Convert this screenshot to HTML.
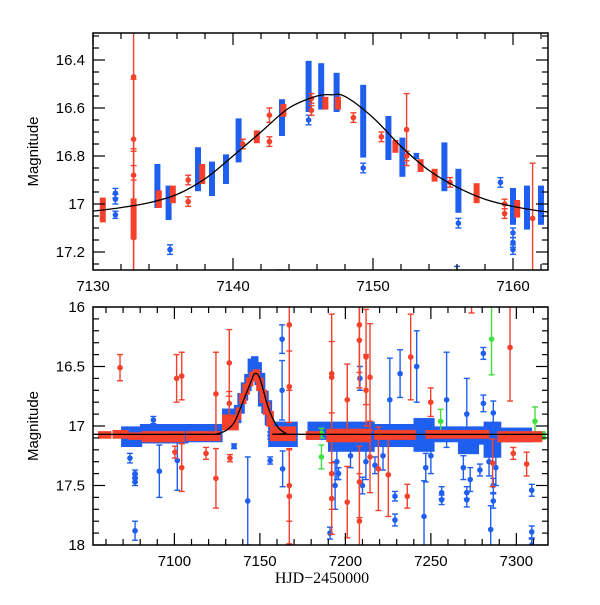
<!DOCTYPE html>
<html><head><meta charset="utf-8"><style>
body{margin:0;background:#fff}
svg text{font-family:"Liberation Sans",sans-serif;font-size:15px;fill:#000}
</style></head><body>
<svg id="chart" width="600" height="600" viewBox="0 0 600 600" xmlns="http://www.w3.org/2000/svg">
<defs>
<clipPath id="clipTop"><rect x="93" y="33" width="455" height="237"/></clipPath>
<clipPath id="clipBot"><rect x="93" y="307" width="455" height="238"/></clipPath>
</defs>
<g id="top"></g>
<g id="bot"></g>
</svg>
<script>
// ---------- TOP PANEL DATA ----------
const topXTicks = [7130, 7140, 7150, 7160];
const topYTicks = [16.4, 16.6, 16.8, 17, 17.2];
const topYLabels = ["16.4", "16.6", "16.8", "17", "17.2"];
const topBlueClusters = [[7134.6,16.85,17.0],[7135.4,16.94,17.05],[7137.5,16.78,16.93],[7138.5,16.84,16.95],[7139.5,16.81,16.9],[7140.4,16.66,16.81],[7143.5,16.58,16.7],[7145.4,16.42,16.6],[7146.3,16.43,16.59],[7147.4,16.47,16.6],[7149.3,16.52,16.79],[7151.1,16.65,16.8],[7152.1,16.74,16.87],[7155.1,16.76,16.93],[7156.1,16.87,17.02],[7160.0,16.95,17.07],[7161.0,16.94,17.09],[7162.0,16.94,17.07]];
const topRedClusters = [[7130.7,16.99,17.06],[7132.9,17.0,17.13],[7134.7,16.96,17.0],[7135.7,16.94,16.98],[7137.8,16.85,16.9],[7141.7,16.71,16.73],[7143.6,16.6,16.62],[7146.6,16.57,16.59],[7147.5,16.57,16.59],[7151.6,16.75,16.77],[7153.4,16.83,16.85],[7154.4,16.87,16.89],[7157.4,16.93,16.98],[7160.3,17.0,17.04]];
const topBluePts = [[7131.6,16.955,0.02],[7131.6,16.98,0.02],[7131.6,17.045,0.015],[7135.5,17.19,0.02],[7145.4,16.65,0.02],[7149.3,16.85,0.02],[7153.1,16.8,0.01],[7156.1,17.08,0.02],[7159.1,16.91,0.02],[7160.0,17.12,0.02],[7160.0,17.16,0.02],[7160.0,17.19,0.02],[7143.4,17.29,0.015],[7156.0,17.29,0.03]];
const topRedPts = [[7132.9,16.47,0.3],[7132.9,16.73,0.25],[7132.9,16.88,0.1],[7132.9,17.1,0.2],[7132.9,17.14,0.3],[7136.8,16.9,0.02],[7136.8,16.99,0.02],[7140.7,16.75,0.02],[7142.6,16.63,0.03],[7142.6,16.74,0.02],[7145.6,16.56,0.02],[7145.6,16.61,0.02],[7148.6,16.64,0.02],[7150.6,16.72,0.02],[7152.4,16.69,0.15],[7152.4,16.8,0.02],[7155.5,16.91,0.02],[7159.4,17.0,0.02],[7159.4,17.04,0.02],[7161.4,17.06,0.23]];
const topCurveX = [7130,7132,7134,7136,7138,7140,7142,7144,7146,7147,7148,7150,7152,7154,7156,7158,7160,7162,7163];
const topCurveY = [17.03,17.015,16.995,16.96,16.895,16.8,16.7,16.6,16.55,16.545,16.552,16.64,16.76,16.86,16.93,16.98,17.01,17.03,17.035];

// ---------- BOTTOM PANEL DATA ----------
const botXTicks = [7100, 7150, 7200, 7250, 7300];
const botYTicks = [16, 16.5, 17, 17.5, 18];
const botYLabels = ["16", "16.5", "17", "17.5", "18"];
const botBlueClusters = [[7070,7080,17.02,17.16],[7081,7107,17.0,17.13],[7109,7127,17.0,17.12],[7129,7136,16.87,17.0],[7136,7138,16.84,16.96],[7138,7140,16.74,16.88],[7140,7142,16.65,16.77],[7142,7144,16.58,16.69],[7144,7146,16.45,16.6],[7146,7148,16.43,16.6],[7148,7150,16.48,16.64],[7150,7152,16.57,16.82],[7152,7154,16.72,16.88],[7154,7156,16.8,16.98],[7156,7171,16.98,17.16],[7179,7189,16.98,17.1],[7191,7216,16.98,17.2],[7216,7240,17.0,17.16],[7241,7251,16.95,17.2],[7252,7266,17.02,17.12],[7267,7277,17.02,17.22],[7278,7282,17.02,17.14],[7282,7290,16.98,17.25],[7291,7308,17.03,17.12]];
const botRedClusters = [[7056.5,7062,17.06,17.09],[7065,7072,17.05,17.09],[7074,7080,17.07,17.1],[7082,7105,17.06,17.12],[7108,7126,17.06,17.11],[7129,7136.5,16.92,17.02],[7137,7138,16.86,16.93],[7139,7141,16.74,16.8],[7141,7143,16.66,16.72],[7143,7145,16.61,16.65],[7145,7147,16.56,16.61],[7147,7149,16.54,16.59],[7149,7151,16.61,16.69],[7151,7153,16.71,16.79],[7153,7155,16.81,16.89],[7155,7157,16.89,16.99],[7157,7170,17.02,17.11],[7178,7184,17.06,17.1],[7190,7214,17.04,17.12],[7218,7240,17.05,17.1],[7248,7283,17.05,17.09],[7290,7314,17.06,17.12]];
const botGreenClusters = [[7312,7316,17.06,17.1]];
const botBluePts = [[7077,17.88,0.08],[7077,17.4,0.03],[7077,17.44,0.03],[7077,17.47,0.03],[7074,17.27,0.04],[7087.7,16.95,0.03],[7091.2,17.38,0.22],[7101.7,17.29,0.25],[7134.9,17.17,0.02],[7142.9,17.63,0.37],[7163,16.27,0.12],[7163,16.7,0.25],[7163.3,17.36,0.15],[7156,17.29,0.03],[7156,17.08,0.03],[7280.7,16.39,0.05],[7280.7,16.81,0.07],[7286.5,16.89,0.1],[7256.3,17.56,0.05],[7256.3,17.62,0.04],[7229,17.59,0.04],[7229,17.79,0.05],[7246,17.76,0.3],[7271,17.62,0.06],[7271,17.56,0.05],[7285,17.87,0.2],[7286.5,17.5,0.06],[7286.5,17.63,0.06],[7309,17.54,0.05],[7309,17.89,0.05],[7309,18.0,0.05],[7191,17.9,0.05],[7208.5,16.6,0.1],[7232,16.56,0.2],[7241.7,16.5,0.3],[7226,16.78,0.35],[7259.2,16.78,0.4],[7271,16.9,0.3],[7210,17.5,0.07],[7217.3,17.33,0.07],[7278.7,17.37,0.05],[7196,17.4,0.05],[7194,17.5,0.2],[7195,17.3,0.15],[7203,17.25,0.1],[7212,17.3,0.15],[7222,17.25,0.12],[7247,17.35,0.12],[7250,17.25,0.15],[7269,17.35,0.1],[7273,17.45,0.1],[7284,17.3,0.12],[7288,17.35,0.15]];
const botRedPts = [[7068.2,16.51,0.11],[7101.3,16.6,0.2],[7104.3,16.58,0.2],[7104.3,17.35,0.2],[7124.3,16.73,0.35],[7124.3,17.44,0.25],[7132.1,16.47,0.28],[7132.1,16.81,0.1],[7132.5,17.27,0.03],[7118.5,17.23,0.05],[7100.3,17.22,0.05],[7167.2,16.15,0.55],[7167.2,16.67,0.3],[7167.2,17.5,0.3],[7167.2,17.59,0.4],[7192,16.56,0.5],[7192,16.59,0.3],[7192,17.4,0.3],[7192,17.61,0.3],[7201.1,16.78,0.3],[7201.1,17.64,0.3],[7208.2,16.15,0.4],[7208.2,16.28,0.4],[7208.2,17.8,0.4],[7208.2,17.47,0.3],[7212.1,16.42,0.4],[7212.1,16.7,0.3],[7214.4,16.59,0.45],[7214.4,17.26,0.3],[7219.3,17.36,0.35],[7225.1,17.41,0.35],[7238.2,16.42,0.36],[7236.2,17.59,0.1],[7249.9,16.8,0.12],[7296.3,16.34,0.45],[7273.8,15.95,0.1],[7286.1,17.31,0.2],[7298.2,17.23,0.05],[7306,17.32,0.1]];
const botGreenPts = [[7285.5,16.27,0.3],[7310.9,16.96,0.12],[7255.7,16.96,0.1],[7186,17.06,0.04],[7186,17.26,0.1]];
const botCurveX = [7050,7120,7125,7130,7135,7140,7145,7147,7150,7155,7160,7165,7170,7320];
const botCurveY = [17.07,17.07,17.065,17.04,16.97,16.8,16.62,16.56,16.6,16.85,17.0,17.06,17.07,17.07];

const NS = "http://www.w3.org/2000/svg";
const RED = "#f5402c", BLUE = "#1f5ff0", GREEN = "#40e040";
function mk(tag, attrs, parent){const e=document.createElementNS(NS,tag);for(const k in attrs)e.setAttribute(k,attrs[k]);parent.appendChild(e);return e;}

function panel(g, P){
  const x = d => P.left + (d - P.x0) / (P.x1 - P.x0) * (P.right - P.left);
  const y = m => P.top + (m - P.y0) / (P.y1 - P.y0) * (P.bottom - P.top);
  const data = mk('g', {'clip-path': 'url(#' + P.clip + ')'}, g);
  
  
  function cluster(c, color, name){
    const x0 = x(c[0]) - P.hw, x1 = x(c.length > 3 ? c[1] : c[0]) + P.hw;
    const mn = c.length > 3 ? c[2] : c[1], mx = c.length > 3 ? c[3] : c[2];
    const r = mk('rect', {x: x0, y: y(mn) - P.pad, width: x1 - x0, height: y(mx) - y(mn) + 2 * P.pad, fill: color}, data);
    
    
  }
  function pt(p, color, name){
    const cx = x(p[0]), cy = y(p[1]), e1 = y(p[1] - p[2]), e2 = y(p[1] + p[2]);
    const grp = mk('g', {stroke: color, 'stroke-width': 1.4, fill: color}, data);
    
    
    mk('line', {x1: cx, x2: cx, y1: e1, y2: e2}, grp);
    mk('line', {x1: cx - 3, x2: cx + 3, y1: e1, y2: e1}, grp);
    mk('line', {x1: cx - 3, x2: cx + 3, y1: e2, y2: e2}, grp);
    mk('circle', {cx: cx, cy: cy, r: 2.8, stroke: 'none'}, grp);
  }
  P.blueC.forEach(c => cluster(c, BLUE, 'blue-cluster'));
  P.bluePts.forEach(p => pt(p, BLUE, 'blue-point'));
  (P.greenC || []).forEach(c => cluster(c, GREEN, 'green-cluster'));
  (P.greenPts || []).forEach(p => pt(p, GREEN, 'green-point'));
  P.redC.forEach(c => cluster(c, RED, 'red-cluster'));
  P.redPts.forEach(p => pt(p, RED, 'red-point'));
  const pts = P.cx.map((d, i) => [x(d), y(P.cy[i])]);
  let dstr = 'M' + pts[0][0] + ',' + pts[0][1];
  for (let i = 0; i < pts.length - 1; i++){
    const p0 = pts[Math.max(0, i - 1)], p1 = pts[i], p2 = pts[i + 1], p3 = pts[Math.min(pts.length - 1, i + 2)];
    const c1 = [p1[0] + (p2[0] - p0[0]) / 6, p1[1] + (p2[1] - p0[1]) / 6];
    const c2 = [p2[0] - (p3[0] - p1[0]) / 6, p2[1] - (p3[1] - p1[1]) / 6];
    dstr += ' C' + c1 + ' ' + c2 + ' ' + p2;
  }
  const cv = mk('path', {d: dstr, fill: 'none', stroke: '#000', 'stroke-width': 1.3}, data);
  
  
  const fr = mk('rect', {x: P.left, y: P.top, width: P.right - P.left, height: P.bottom - P.top, fill: 'none', stroke: '#000', 'stroke-width': 1.5}, g);
  
  
  const ticks = mk('g', {stroke: '#000', 'stroke-width': 1.2}, g);
  
  
  for (let d = Math.ceil(P.x0 / P.xMinor) * P.xMinor; d <= P.x1; d += P.xMinor){
    const major = Math.abs(d / P.xMajor - Math.round(d / P.xMajor)) < 1e-6;
    const L = major ? 12 : 6, xx = x(d);
    mk('line', {x1: xx, x2: xx, y1: P.bottom, y2: P.bottom - L}, ticks);
    mk('line', {x1: xx, x2: xx, y1: P.top, y2: P.top + L}, ticks);
  }
  for (let k = Math.ceil(P.y0 / P.yMinor - 1e-6); k * P.yMinor <= P.y1 + 1e-6; k++){
    const m = k * P.yMinor;
    const major = Math.abs(m / P.yMajor - Math.round(m / P.yMajor)) < 1e-6;
    const L = major ? 12 : 6, yy = y(m);
    mk('line', {x1: P.left, x2: P.left + L, y1: yy, y2: yy}, ticks);
    mk('line', {x1: P.right, x2: P.right - L, y1: yy, y2: yy}, ticks);
  }
  P.xTicks.forEach(d => {
    const t = mk('text', {x: x(d), y: P.bottom + 21, 'text-anchor': 'middle'}, g);
    t.textContent = String(d);
    
    
  });
  P.yTicks.forEach((m, i) => {
    const t = mk('text', {x: P.left - 8, y: y(m) + 5, 'text-anchor': 'end'}, g);
    t.textContent = P.yLabels[i];
    
    
  });
  const yt = mk('text', {x: 0, y: 0, 'text-anchor': 'middle', transform: 'translate(38,' + ((P.top + P.bottom) / 2) + ') rotate(-90)'}, g);
  yt.textContent = 'Magnitude';
  
  
}

panel(document.getElementById('top'), {left:93, right:548, top:33, bottom:270, x0:7130, x1:7162.5, y0:16.2875, y1:17.275, clip:'clipTop', pad:4, hw:3,
  xMinor:2, xMajor:10, yMinor:0.05, yMajor:0.2, xTicks:topXTicks, yTicks:topYTicks, yLabels:topYLabels,
  blueC:topBlueClusters, redC:topRedClusters, bluePts:topBluePts, redPts:topRedPts, cx:topCurveX, cy:topCurveY});
panel(document.getElementById('bot'), {left:93, right:548, top:307, bottom:545, x0:7052.4, x1:7318.5, y0:16, y1:18, clip:'clipBot', pad:2, hw:2,
  xMinor:10, xMajor:50, yMinor:0.1, yMajor:0.5, xTicks:botXTicks, yTicks:botYTicks, yLabels:botYLabels,
  blueC:botBlueClusters, redC:botRedClusters, greenC:botGreenClusters, bluePts:botBluePts, redPts:botRedPts, greenPts:botGreenPts, cx:botCurveX, cy:botCurveY});

const xt = mk('text', {x: 322, y: 583, 'text-anchor': 'middle', style: 'font-family:"Liberation Serif",serif;font-size:16px'}, document.getElementById('chart'));
xt.textContent = 'HJD\u22122450000';


</script>
</body></html>
